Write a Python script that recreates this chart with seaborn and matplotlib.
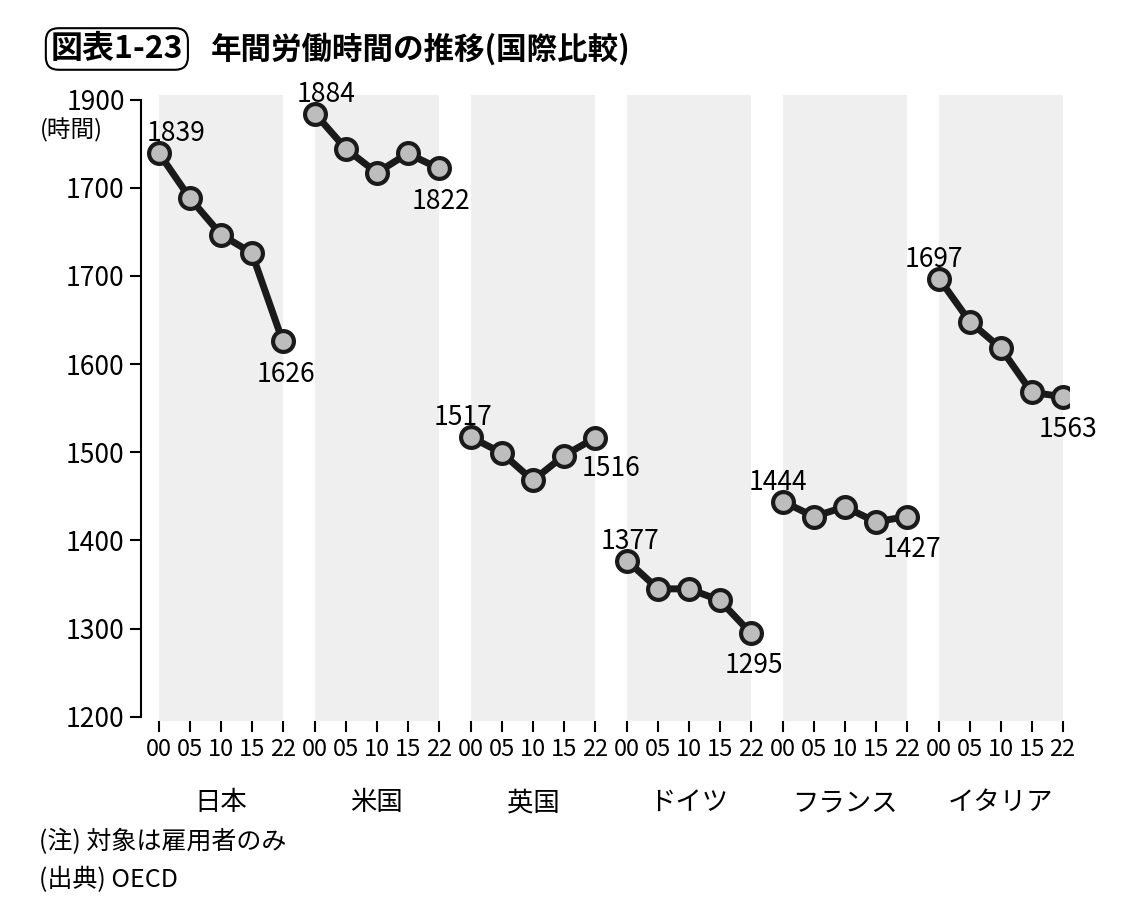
import matplotlib
matplotlib.use("Agg")
import matplotlib.pyplot as plt
import seaborn as sns
import pandas as pd

plt.rcParams["font.family"] = "Noto Sans CJK JP"

countries = ["日本", "米国", "英国", "ドイツ", "フランス", "イタリア"]
years = ["00", "05", "10", "15", "22"]
hours = {
    "日本": [1839, 1788, 1747, 1726, 1626],
    "米国": [1884, 1844, 1817, 1839, 1822],
    "英国": [1517, 1499, 1468, 1496, 1516],
    "ドイツ": [1377, 1345, 1345, 1332, 1295],
    "フランス": [1444, 1427, 1438, 1421, 1427],
    "イタリア": [1697, 1648, 1618, 1568, 1563],
}
ytick_vals = [1200, 1300, 1400, 1500, 1600, 1700, 1800, 1900]
ytick_labels = ["1200", "1300", "1400", "1500", "1600", "1700", "1700", "1900"]
first_off = [(12, 14), (8, 14), (-6, 14), (2, 14), (-4, 14), (-4, 14)]
last_off = [(2, -14), (2, -14), (12, -12), (2, -14), (4, -14), (4, -14)]

GAP = 5.05
rows = []
for gi, c in enumerate(countries):
    for yi, (yr, v) in enumerate(zip(years, hours[c])):
        rows.append({"country": c, "x": gi * GAP + yi, "year": yr, "hours": v})
df = pd.DataFrame(rows)

fig = plt.figure(figsize=(11.25, 9.07), dpi=100)
ax = fig.add_axes([0.125, 0.205, 0.825, 0.69])

for gi, c in enumerate(countries):
    ax.axvspan(gi * GAP, gi * GAP + 4, color="#efefef", zorder=0, lw=0)
    sub = df[df.country == c]
    sns.lineplot(data=sub, x="x", y="hours", ax=ax, color="#1a1a1a", lw=5,
                 marker="o", markersize=15, markerfacecolor="#bdbdbd",
                 markeredgecolor="#1a1a1a", markeredgewidth=3, zorder=3)
    vals = hours[c]
    ax.annotate(str(vals[0]), (gi * GAP, vals[0]), xytext=first_off[gi],
                textcoords="offset points", ha="center", va="center", fontsize=19)
    ax.annotate(str(vals[-1]), (gi * GAP + 4, vals[-1]), xytext=last_off[gi],
                textcoords="offset points", ha="center", va="top", fontsize=19)

ax.set_ylim(1195, 1905)
ax.set_xlim(-0.6, 5 * GAP + 4.2)
ax.set_yticks(ytick_vals)
ax.set_yticklabels(ytick_labels, fontsize=19)
ax.set_xticks(df["x"])
ax.set_xticklabels(df["year"], fontsize=17)
ax.tick_params(axis="x", length=8, width=1.5, pad=4)
ax.tick_params(axis="y", length=8, width=1.5)
for s in ["top", "right", "bottom"]:
    ax.spines[s].set_visible(False)
ax.spines["left"].set_linewidth(1.5)
ax.spines["left"].set_bounds(1200, 1900)
ax.set_xlabel("")
ax.set_ylabel("")
ax.grid(False)

for gi, c in enumerate(countries):
    x = gi * GAP + 2
    xf = ax.transData.transform((x, 0))[0] / fig.bbox.width
    fig.text(xf, 0.115, c, ha="center", va="center", fontsize=19)

fig.text(0.035, 0.856, "(時間)", fontsize=17, ha="left", va="center")
fig.text(0.045, 0.946, "図表1-23", fontsize=23, fontweight="bold", ha="left", va="center",
         bbox=dict(boxstyle="round,pad=0.15,rounding_size=0.4", fc="white", ec="black", lw=1.5))
fig.text(0.187, 0.946, "年間労働時間の推移(国際比較)", fontsize=22, fontweight="bold",
         ha="left", va="center")
fig.text(0.035, 0.072, "(注) 対象は雇用者のみ", fontsize=18, ha="left", va="center")
fig.text(0.035, 0.030, "(出典) OECD", fontsize=18, ha="left", va="center")

fig.savefig("out.png", dpi=100)
